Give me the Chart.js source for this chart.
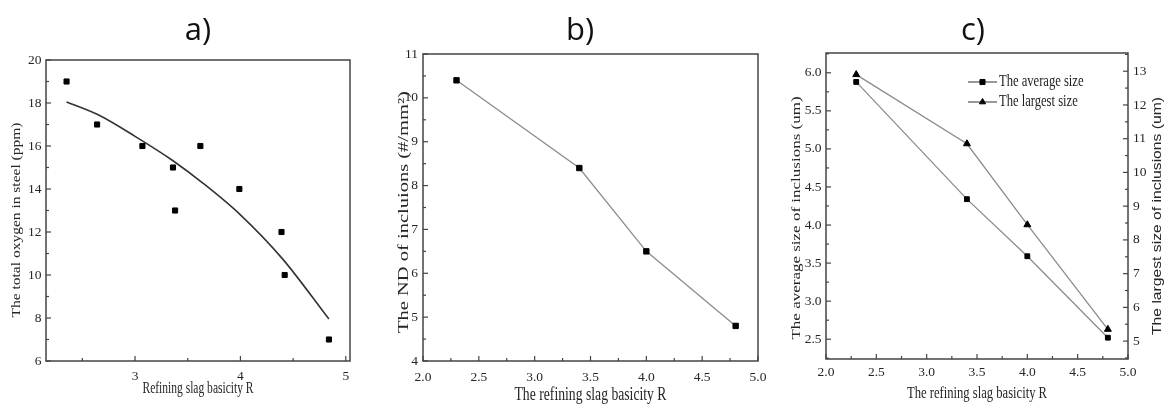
<!DOCTYPE html>
<html><head><meta charset="utf-8">
<script src="https://cdn.jsdelivr.net/npm/chart.js@4/dist/chart.umd.min.js"></script>
<style>
html,body{margin:0;padding:0;background:#fff;}
#wrap{position:relative;width:1168px;height:405px;overflow:hidden;background:#fff;}
canvas{position:absolute;top:0;}
</style></head><body>
<div id="wrap">
<canvas id="ca" width="390" height="405" style="left:0px"></canvas>
<canvas id="cb" width="390" height="405" style="left:390px"></canvas>
<canvas id="cc" width="388" height="405" style="left:780px"></canvas>
</div>
<script>
// ---------- data ----------
// panel a) total oxygen vs basicity (scatter) + fitted curve
const aBasicity = [2.35, 2.64, 3.07, 3.36, 3.38, 3.62, 3.99, 4.39, 4.42, 4.84];
const aOxygen   = [19, 17, 16, 15, 13, 16, 14, 12, 10, 7];
const aFitBasicity = [2.35, 2.65, 3.0, 3.35, 3.65, 4.0, 4.4, 4.84];
const aFitOxygen   = [18.05, 17.45, 16.45, 15.35, 14.25, 12.8, 10.75, 7.95];
// panel b) number density of inclusions
const bBasicity = [2.3, 3.4, 4.0, 4.8];
const bND       = [10.4, 8.4, 6.5, 4.8];
// panel c) average and largest size of inclusions
const cBasicity = [2.3, 3.4, 4.0, 4.8];
const cAverage  = [5.88, 4.34, 3.59, 2.52];
const cLargest  = [12.9, 10.85, 8.45, 5.35];
// titles / labels
const panelTitles = ['a)', 'b)', 'c)'];
const legendLabels = ['The average size', 'The largest size'];
const axisTitles = {
  aX: 'Refining slag basicity R',
  aY: 'The total oxygen in steel (ppm)',
  bX: 'The refining slag basicity R',
  bY: 'The ND of incluions (#/mm²)',
  cX: 'The refining slag basicity R',
  cY: 'The average size of inclusions (um)',
  cY2: 'The largest size of inclusions (um)'
};

const pts = (xs, ys) => xs.map((x, i) => ({x: x, y: ys[i]}));

const SERIF = "'Liberation Serif', 'Times New Roman', serif";
const SANS = "'Liberation Sans', Arial, sans-serif";
const TITLEF = "'Open Sans', sans-serif";
const TXT = '#262626';
Chart.defaults.font.family = SERIF;
Chart.defaults.color = TXT;

// frame + inward major/minor ticks
const frameTicks = {
  id: 'frameTicks',
  beforeDatasetsDraw(chart) {
    const {ctx, chartArea: ca} = chart;
    ctx.save();
    ctx.strokeStyle = '#444';
    ctx.lineWidth = 1.5;
    ctx.strokeRect(ca.left, ca.top, ca.right - ca.left, ca.bottom - ca.top);
    ctx.lineWidth = 1.2;
    Object.values(chart.scales).forEach(s => {
      const majors = s.ticks.map(t => t.value);
      if (majors.length < 2) return;
      const half = (majors[1] - majors[0]) / 2;
      for (let k = -1; k <= majors.length * 2 + 1; k++) {
        const v = majors[0] + k * half;
        if (v < s.min - 1e-9 || v > s.max + 1e-9) continue;
        const len = (k % 2 === 0) ? 5 : 3;
        const p = s.getPixelForValue(v);
        ctx.beginPath();
        if (s.position === 'bottom') {
          ctx.moveTo(p, ca.bottom); ctx.lineTo(p, ca.bottom - len);
        } else if (s.position === 'left') {
          ctx.moveTo(ca.left, p); ctx.lineTo(ca.left + len, p);
        } else if (s.position === 'right') {
          ctx.moveTo(ca.right, p); ctx.lineTo(ca.right - len, p);
        }
        ctx.stroke();
      }
    });
    ctx.restore();
  }
};

// text items (panel letters and axis titles, narrow like the scanned figure)
const texts = {
  id: 'texts',
  afterDraw(chart, args, opts) {
    const ctx = chart.ctx;
    (opts.items || []).forEach(t => {
      ctx.save();
      ctx.translate(t.x, t.y);
      if (t.rotate) ctx.rotate(-Math.PI / 2);
      ctx.scale(t.sx || 1, t.sy || 1);
      ctx.font = t.size + 'px ' + t.family;
      ctx.fillStyle = t.color || TXT;
      ctx.textAlign = 'center';
      ctx.textBaseline = 'middle';
      ctx.fillText(t.text, 0, 0);
      ctx.restore();
    });
  }
};

// in-plot legend for panel c
const legendC = {
  id: 'legendC',
  afterDatasetsDraw(chart) {
    const {ctx, chartArea: ca} = chart;
    chart.data.datasets.forEach((ds, i) => {
      const y = ca.top + 29 + i * 20;
      const x0 = ca.left + 142;
      ctx.save();
      ctx.strokeStyle = '#555';
      ctx.lineWidth = 1.2;
      ctx.beginPath(); ctx.moveTo(x0, y); ctx.lineTo(x0 + 29, y); ctx.stroke();
      ctx.fillStyle = '#000';
      ctx.strokeStyle = '#000';
      ctx.lineWidth = 1;
      Chart.helpers.drawPoint(ctx, {pointStyle: ds.pointStyle, radius: 3.6, borderWidth: 1, rotation: 0}, x0 + 14.5, y);
      ctx.fillStyle = '#1e1e1e';
      ctx.font = '17px ' + SERIF;
      ctx.textBaseline = 'middle';
      ctx.textAlign = 'left';
      ctx.translate(x0 + 31, y);
      ctx.scale(0.74, 1);
      ctx.fillText(ds.label, 0, 0);
      ctx.restore();
    });
  }
};

function tickFont(size) { return {family: SERIF, size: size}; }
const noGrid = {display: false, drawTicks: false, tickLength: 0};
const noBorder = {display: false};

// ---------- panel a ----------
new Chart(document.getElementById('ca'), {
  type: 'scatter',
  data: {datasets: [
    {label: 'measured', data: pts(aBasicity, aOxygen), pointStyle: 'rect', pointRadius: 3.6,
     backgroundColor: '#000', borderColor: '#000', borderWidth: 1, showLine: false},
    {label: 'fit', data: pts(aFitBasicity, aFitOxygen), showLine: true, pointRadius: 0,
     borderColor: '#333', borderWidth: 1.6, cubicInterpolationMode: 'monotone', fill: false}
  ]},
  options: {
    responsive: false, animation: false,
    layout: {padding: {left: 0, right: 40, top: 60, bottom: 0}},
    plugins: {
      legend: {display: false}, tooltip: {enabled: false},
      texts: {items: [
        {text: panelTitles[0], x: 198, y: 31, size: 31, family: TITLEF, color: '#111'},
        {text: axisTitles.aY, x: 17, y: 220, size: 15.5, family: SERIF, rotate: true, sy: 0.78},
        {text: axisTitles.aX, x: 198, y: 389, size: 16, family: SERIF, sx: 0.72}
      ]}
    },
    scales: {
      x: {type: 'linear', position: 'bottom', min: 2.155, max: 5.04, grid: noGrid, border: noBorder,
          ticks: {stepSize: 1, includeBounds: false, padding: 7, font: tickFont(13.5), color: TXT},
          afterFit: s => { s.height = 44; }},
      y: {type: 'linear', position: 'left', min: 6, max: 20, grid: noGrid, border: noBorder,
          ticks: {stepSize: 2, includeBounds: false, padding: 4.5, font: tickFont(13.5), color: TXT},
          afterFit: s => { s.width = 46; }}
    }
  },
  plugins: [frameTicks, texts]
});

// ---------- panel b ----------
new Chart(document.getElementById('cb'), {
  type: 'scatter',
  data: {datasets: [
    {label: 'ND', data: pts(bBasicity, bND), showLine: true, pointStyle: 'rect', pointRadius: 3.8,
     backgroundColor: '#000', borderColor: '#8c8c8c', pointBorderColor: '#000', borderWidth: 1.3, pointBorderWidth: 1}
  ]},
  options: {
    responsive: false, animation: false,
    layout: {padding: {left: 0, right: 22, top: 54, bottom: 0}},
    plugins: {
      legend: {display: false}, tooltip: {enabled: false},
      texts: {items: [
        {text: panelTitles[1], x: 190, y: 31, size: 31, family: TITLEF, color: '#111'},
        {text: axisTitles.bY, x: 14, y: 212, size: 20.5, family: SERIF, rotate: true, sy: 0.72},
        {text: axisTitles.bX, x: 200.5, y: 395, size: 19, family: SERIF, sx: 0.72}
      ]}
    },
    scales: {
      x: {type: 'linear', position: 'bottom', min: 2.0, max: 5.0, grid: noGrid, border: noBorder,
          ticks: {stepSize: 0.5, includeBounds: false, padding: 8, font: tickFont(13.5), color: TXT, callback: v => Number(v).toFixed(1)},
          afterFit: s => { s.height = 44; }},
      y: {type: 'linear', position: 'left', min: 4, max: 11, grid: noGrid, border: noBorder,
          ticks: {stepSize: 1, includeBounds: false, padding: 5, font: tickFont(13.5), color: TXT},
          afterFit: s => { s.width = 33; }}
    }
  },
  plugins: [frameTicks, texts]
});

// ---------- panel c ----------
new Chart(document.getElementById('cc'), {
  type: 'scatter',
  data: {datasets: [
    {label: legendLabels[0], data: pts(cBasicity, cAverage), yAxisID: 'y', showLine: true, pointStyle: 'rect', pointRadius: 3.4,
     backgroundColor: '#000', borderColor: '#8c8c8c', pointBorderColor: '#000', borderWidth: 1.3, pointBorderWidth: 1},
    {label: legendLabels[1], data: pts(cBasicity, cLargest), yAxisID: 'y2', showLine: true, pointStyle: 'triangle', pointRadius: 4,
     backgroundColor: '#000', borderColor: '#8c8c8c', pointBorderColor: '#000', borderWidth: 1.3, pointBorderWidth: 1}
  ]},
  options: {
    responsive: false, animation: false,
    layout: {padding: {left: 0, right: 0, top: 53, bottom: 0}},
    plugins: {
      legend: {display: false}, tooltip: {enabled: false},
      texts: {items: [
        {text: panelTitles[2], x: 193, y: 31, size: 31, family: TITLEF, color: '#111'},
        {text: axisTitles.cY, x: 17, y: 218, size: 17, family: SERIF, rotate: true, sy: 0.76},
        {text: axisTitles.cY2, x: 378, y: 216, size: 15.7, family: SANS, rotate: true, sy: 0.76},
        {text: axisTitles.cX, x: 197, y: 393, size: 17.5, family: SERIF, sx: 0.72}
      ]}
    },
    scales: {
      x: {type: 'linear', position: 'bottom', min: 2.0, max: 5.0, grid: noGrid, border: noBorder,
          ticks: {stepSize: 0.5, includeBounds: false, padding: 5, font: tickFont(13.5), color: TXT, callback: v => Number(v).toFixed(1)},
          afterFit: s => { s.height = 46; }},
      y: {type: 'linear', position: 'left', min: 2.24, max: 6.26, grid: noGrid, border: noBorder,
          ticks: {stepSize: 0.5, includeBounds: false, padding: 4.5, font: tickFont(13.5), color: TXT, callback: v => Number(v).toFixed(1)},
          afterFit: s => { s.width = 46; }},
      y2: {type: 'linear', position: 'right', min: 4.47, max: 13.54, grid: noGrid, border: noBorder,
          ticks: {stepSize: 1, includeBounds: false, padding: 5, font: tickFont(13.5), color: TXT},
          afterFit: s => { s.width = 40; }}
    }
  },
  plugins: [frameTicks, legendC, texts]
});
</script>
</body></html>
